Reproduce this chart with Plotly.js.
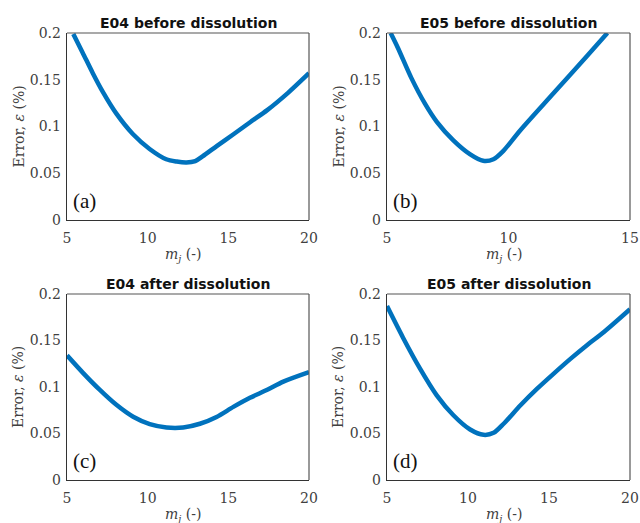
<!DOCTYPE html>
<html><head><meta charset="utf-8">
<script src="https://cdn.plot.ly/plotly-3.0.1.min.js"></script>
<style>html,body{margin:0;padding:0;background:#fff}#g{width:640px;height:523px}</style>
</head><body><div id="g"></div>
<script>
// Panel (a) E04 before dissolution
const xA = [5.39, 5.97, 6.6, 7.22, 8.05, 9.08, 10.12, 11.15, 11.8, 12.4, 12.95, 13.4, 14.3, 15.34, 16.37, 17.41, 18.7, 20];
const yA = [0.199, 0.179, 0.157, 0.137, 0.114, 0.092, 0.076, 0.065, 0.0625, 0.0615, 0.063, 0.068, 0.0793, 0.092, 0.1048, 0.1175, 0.136, 0.157];
// Panel (b) E05 before dissolution
const xB = [5.15, 5.45, 6.0, 6.55, 7.05, 7.72, 8.41, 8.96, 9.38, 9.79, 10.48, 11.86, 13.25, 14.07];
const yB = [0.200, 0.184, 0.152, 0.125, 0.105, 0.0855, 0.0705, 0.0633, 0.065, 0.074, 0.0958, 0.1358, 0.176, 0.200];
// Panel (c) E04 after dissolution
const xC = [5.0, 5.99, 7.02, 8.06, 9.1, 10.13, 11.17, 12.2, 13.24, 14.27, 15.31, 16.34, 17.38, 18.41, 20];
const yC = [0.134, 0.1152, 0.0971, 0.0808, 0.068, 0.0601, 0.0565, 0.0565, 0.0605, 0.0678, 0.0786, 0.0884, 0.0967, 0.1058, 0.116];
// Panel (d) E05 after dissolution
const xD = [5.0, 5.99, 7.03, 8.06, 9.1, 10.13, 10.96, 11.58, 12.2, 13.24, 14.27, 15.31, 16.34, 17.38, 18.41, 20];
const yD = [0.187, 0.153, 0.120, 0.0913, 0.0696, 0.0543, 0.0486, 0.0507, 0.0605, 0.0804, 0.0982, 0.1147, 0.1305, 0.1455, 0.1595, 0.1837];

const titles = ["E04 before dissolution", "E05 before dissolution", "E04 after dissolution", "E05 after dissolution"];
const panelLabels = ["(a)", "(b)", "(c)", "(d)"];
const yTicks = [0, 0.05, 0.1, 0.15, 0.2];
const yTickText = ["0", "0.05", "0.1", "0.15", "0.2"];
const xTicks20 = [5, 10, 15, 20];
const xTicks15 = [5, 10, 15];
const yTitle = "Error, <i>ε</i> (%)";
const xTitle = "<i>m<sub>j</sub></i> (-)";

const series = [[xA, yA], [xB, yB], [xC, yC], [xD, yD]];
const xRanges = [[5, 20], [5, 15], [5, 20], [5, 20]];
const xTickSets = [xTicks20, xTicks15, xTicks20, xTicks20];

const W = 640, H = 523;
const colsPx = [[67, 309], [387, 630]];
const rowsPx = [[33, 220], [294, 480]];

const serif = "DejaVu Serif, serif";
const tickFont = {family: serif, size: 14, color: "#404040"};
const traces = [];
const layout = {
  width: W, height: H, margin: {l: 0, r: 0, t: 0, b: 0},
  paper_bgcolor: "#fff", plot_bgcolor: "#fff", showlegend: false,
  annotations: [], shapes: []
};
for (let i = 0; i < 4; i++) {
  const c = i % 2, r = Math.floor(i / 2);
  const n = i === 0 ? "" : String(i + 1);
  const xd = [colsPx[c][0] / W, colsPx[c][1] / W];
  const yd = [1 - rowsPx[r][1] / H, 1 - rowsPx[r][0] / H];
  traces.push({x: series[i][0], y: series[i][1], type: "scatter", mode: "lines",
    line: {color: "#0072BD", width: 4.5, shape: "spline", smoothing: 0.8},
    xaxis: "x" + n, yaxis: "y" + n, hoverinfo: "skip"});
  layout["xaxis" + n] = {domain: xd, range: xRanges[i], tickvals: xTickSets[i], ticks: "",
    showgrid: false, zeroline: false, showline: true, linecolor: "#333", linewidth: 1.3,
    tickfont: tickFont, ticklabelstandoff: 5, anchor: "y" + n, fixedrange: true};
  layout["yaxis" + n] = {domain: yd, range: [0, 0.2], tickvals: yTicks, ticktext: yTickText, ticks: "",
    showgrid: false, zeroline: false, showline: true, linecolor: "#333", linewidth: 1.3,
    tickfont: tickFont, ticklabelstandoff: 2, anchor: "x" + n, fixedrange: true};
  layout.shapes.push({type: "line", xref: "x" + n + " domain", yref: "y" + n + " domain",
    x0: 0, x1: 1, y0: 1, y1: 1, line: {color: "#555", width: 1.2}});
  layout.shapes.push({type: "line", xref: "x" + n + " domain", yref: "y" + n + " domain",
    x0: 1, x1: 1, y0: 0, y1: 1, line: {color: "#555", width: 1.2}});
  // panel title
  layout.annotations.push({text: "<b>" + titles[i] + "</b>", xref: "x" + n + " domain", yref: "y" + n + " domain",
    x: 0.5, y: 1, yanchor: "bottom", xanchor: "center", yshift: 0, showarrow: false,
    font: {family: "DejaVu Sans, sans-serif", size: 14, color: "#111"}});
  // panel letter
  layout.annotations.push({text: panelLabels[i], xref: "x" + n + " domain", yref: "y" + n + " domain",
    x: 0, y: 0, xanchor: "left", yanchor: "middle", xshift: 4, yshift: 19, showarrow: false,
    font: {family: "Liberation Serif, serif", size: 21, color: "#111"}});
  // y axis title
  layout.annotations.push({text: yTitle, xref: "paper", yref: "y" + n + " domain",
    x: (colsPx[c][0] - 49) / W, y: 0.5, xanchor: "center", yanchor: "middle", textangle: -90, showarrow: false,
    font: {family: serif, size: 14, color: "#404040"}});
  // x axis title
  layout.annotations.push({text: xTitle, xref: "x" + n + " domain", yref: "paper",
    x: 0.5, y: 1 - (rowsPx[r][1] + 35) / H, xanchor: "center", yanchor: "middle", xshift: -5, showarrow: false,
    font: {family: serif, size: 14, color: "#404040"}});
}
Plotly.newPlot("g", traces, layout, {displayModeBar: false, staticPlot: true});
</script>
</body></html>
